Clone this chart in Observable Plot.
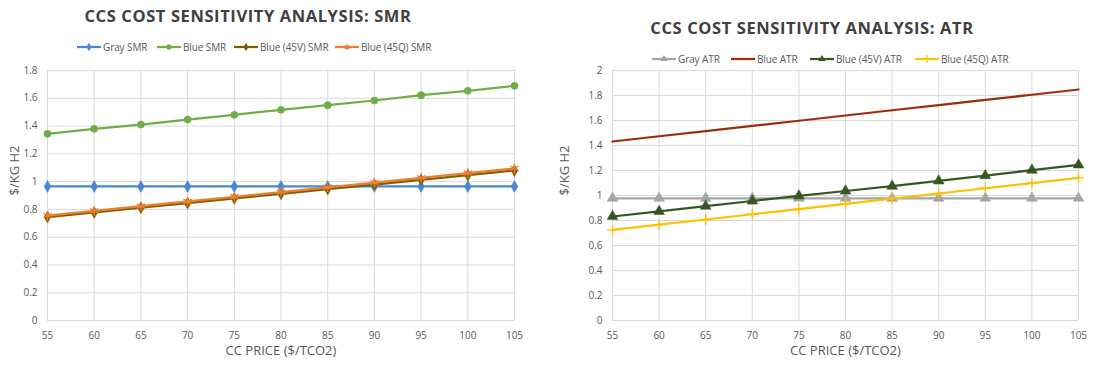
<!DOCTYPE html>
<html><head><meta charset="utf-8">
<script src="https://cdn.jsdelivr.net/npm/d3@7"></script>
<script src="https://cdn.jsdelivr.net/npm/@observablehq/plot@0.6"></script>
<style>
body{margin:0;background:#fff;font-family:"Open Sans",sans-serif;}
#root{position:relative;width:1100px;height:367px;overflow:hidden;background:#fff;}
.title{position:absolute;font-weight:700;color:#404040;font-size:16.5px;letter-spacing:0.6px;white-space:nowrap;transform:translateX(-50%);line-height:20px;}
.leg{position:absolute;display:flex;align-items:center;font-size:10px;letter-spacing:-0.1px;color:#595959;white-space:nowrap;height:14px;}
.leg svg{display:block;margin-right:2px;}
.chart{position:absolute;top:62px;}
</style></head>
<body><div id="root"></div>
<script>
// ---- data ----
const ccPrice = [55, 60, 65, 70, 75, 80, 85, 90, 95, 100, 105];

const smrNames = ["Gray SMR", "Blue SMR", "Blue (45V) SMR", "Blue (45Q) SMR"];
const smrGray = [0.965, 0.965, 0.965, 0.965, 0.965, 0.965, 0.965, 0.965, 0.965, 0.965, 0.965];
const smrBlue = [1.344, 1.380, 1.411, 1.447, 1.481, 1.517, 1.550, 1.584, 1.622, 1.654, 1.690];
const smr45V  = [0.745, 0.778, 0.812, 0.845, 0.879, 0.912, 0.946, 0.979, 1.013, 1.046, 1.080];
const smr45Q  = [0.755, 0.789, 0.823, 0.857, 0.891, 0.925, 0.959, 0.993, 1.027, 1.061, 1.095];

const atrNames = ["Gray ATR", "Blue ATR", "Blue (45V) ATR", "Blue (45Q) ATR"];
const atrGray = [0.978, 0.978, 0.978, 0.978, 0.978, 0.978, 0.978, 0.978, 0.978, 0.978, 0.978];
const atrBlue = [1.432, 1.474, 1.515, 1.557, 1.598, 1.640, 1.682, 1.723, 1.765, 1.806, 1.848];
const atr45V  = [0.832, 0.873, 0.915, 0.956, 0.997, 1.036, 1.075, 1.117, 1.159, 1.203, 1.245];
const atr45Q  = [0.725, 0.767, 0.808, 0.850, 0.891, 0.933, 0.975, 1.016, 1.058, 1.099, 1.141];

const smrTicksY = [0, 0.2, 0.4, 0.6, 0.8, 1, 1.2, 1.4, 1.6, 1.8];
const atrTicksY = [0, 0.2, 0.4, 0.6, 0.8, 1, 1.2, 1.4, 1.6, 1.8, 2];

const xLabel = "CC PRICE ($/TCO2)";
const yLabel = "$/KG H2";
const smrTitle = "CCS COST SENSITIVITY ANALYSIS: SMR";
const atrTitle = "CCS COST SENSITIVITY ANALYSIS: ATR";

// ---- styles ----
const smrStyles = [
  {color: "#4a86d4", symbol: "diamond", r: 3.6, mode: "fill"},
  {color: "#70ad47", symbol: "circle", r: 3.6, mode: "fill"},
  {color: "#7f6000", symbol: "diamond", r: 3.6, mode: "fill"},
  {color: "#ed7d31", symbol: "asterisk", r: 4.5, mode: "stroke"}
];
const atrStyles = [
  {color: "#a5a5a5", symbol: "triangle", r: 4, mode: "fill"},
  {color: "#a02b0b", symbol: null},
  {color: "#375623", symbol: "triangle", r: 4, mode: "fill"},
  {color: "#ffc000", symbol: "plus", r: 3.6, mode: "stroke"}
];

function longTable(names, series) {
  const rows = [];
  names.forEach((n, i) => series[i].forEach((v, j) => rows.push({series: n, idx: i, x: ccPrice[j], y: v})));
  return rows;
}

function makeChart(names, series, styles, yMax, yTicks, mLeft, mRight) {
  const rows = longTable(names, series);
  const marks = [
    Plot.gridX(ccPrice, {stroke: "#d9d9d9", strokeOpacity: 1, strokeWidth: 1}),
    Plot.gridY(yTicks, {stroke: "#d9d9d9", strokeOpacity: 1, strokeWidth: 1}),
    Plot.axisX(ccPrice, {tickSize: 0, tickPadding: 11, fontSize: 10, color: "#595959", label: null}),
    Plot.axisY(yTicks, {tickSize: 0, tickPadding: 10, fontSize: 10, color: "#595959", label: null, tickFormat: d => String(d)}),
    Plot.text([xLabel], {frameAnchor: "bottom", dy: 34, fontSize: 13, fill: "#595959"}),
    Plot.text([yLabel], {frameAnchor: "left", dx: -(mLeft - 14), rotate: -90, fontSize: 13, fill: "#595959"})
  ];
  names.forEach((n, i) => {
    const st = styles[i];
    const d = rows.filter(r => r.idx === i);
    marks.push(Plot.line(d, {x: "x", y: "y", stroke: st.color, strokeWidth: 2.25}));
    if (st.symbol) {
      if (st.mode === "fill") marks.push(Plot.dot(d, {x: "x", y: "y", symbol: () => st.symbol, r: st.r, fill: st.color, stroke: st.color, strokeWidth: 0.5}));
      else marks.push(Plot.dot(d, {x: "x", y: "y", symbol: () => st.symbol, r: st.r, stroke: st.color, strokeWidth: 1.3, fill: "none"}));
    }
  });
  return Plot.plot({
    width: 550, height: 305,
    marginTop: 8, marginBottom: 47, marginLeft: mLeft, marginRight: mRight,
    style: {fontFamily: '"Open Sans", sans-serif', background: "transparent", overflow: "visible"},
    x: {domain: [55, 105], axis: null},
    y: {domain: [0, yMax], axis: null},
    symbol: {type: "identity"},
    marks
  });
}

function legendItem(name, st, x, yc) {
  const div = document.createElement("div");
  div.className = "leg";
  div.style.left = x + "px";
  div.style.top = (yc - 7) + "px";
  const svg = d3.create("svg").attr("width", 24).attr("height", 12);
  svg.append("line").attr("x1", 0).attr("x2", 24).attr("y1", 6).attr("y2", 6).attr("stroke", st.color).attr("stroke-width", 2.25);
  if (st.symbol) {
    const map = {diamond: d3.symbolDiamond, circle: d3.symbolCircle, triangle: d3.symbolTriangle, asterisk: d3.symbolAsterisk, plus: d3.symbolPlus};
    const p = svg.append("path").attr("transform", "translate(12,6)").attr("d", d3.symbol(map[st.symbol], 22)());
    if (st.mode === "fill") p.attr("fill", st.color);
    else p.attr("fill", "none").attr("stroke", st.color).attr("stroke-width", 1.2);
  }
  div.appendChild(svg.node());
  const span = document.createElement("span");
  span.textContent = name;
  div.appendChild(span);
  return div;
}

const root = document.getElementById("root");

function addTitle(text, cx, top) {
  const t = document.createElement("div");
  t.className = "title";
  t.textContent = text;
  t.style.left = cx + "px";
  t.style.top = top + "px";
  root.appendChild(t);
}

addTitle(smrTitle, 248, 6);
addTitle(atrTitle, 812, 18);

const smrLegX = [77, 157, 234, 335];
const atrLegX = [652, 731, 810, 915];
smrNames.forEach((n, i) => root.appendChild(legendItem(n, smrStyles[i], smrLegX[i], 47)));
atrNames.forEach((n, i) => root.appendChild(legendItem(n, atrStyles[i], atrLegX[i], 59)));

const c1 = makeChart(smrNames, [smrGray, smrBlue, smr45V, smr45Q], smrStyles, 1.8, smrTicksY, 47, 36);
c1.classList.add("chart"); c1.style.left = "0px";
root.appendChild(c1);
const c2 = makeChart(atrNames, [atrGray, atrBlue, atr45V, atr45Q], atrStyles, 2, atrTicksY, 62, 22);
c2.classList.add("chart"); c2.style.left = "550px";
root.appendChild(c2);
</script>
</body></html>
